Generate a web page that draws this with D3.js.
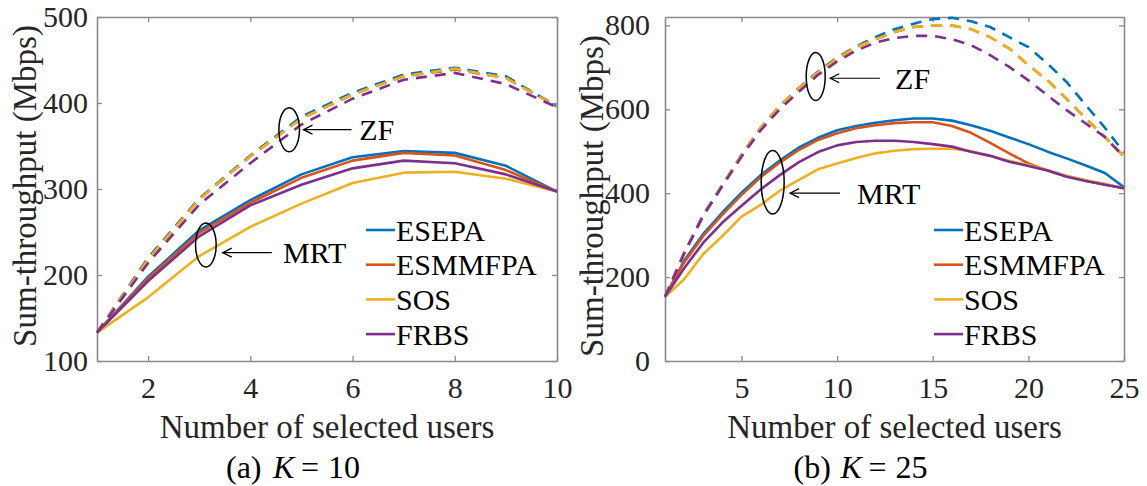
<!DOCTYPE html>
<html>
<head>
<meta charset="utf-8">
<script src="https://cdn.jsdelivr.net/npm/d3@7/dist/d3.min.js"></script>
<style>
  body { margin: 0; background: #fff; }
  text { font-family: "Liberation Serif", "Times New Roman", serif; fill: #262626; }
</style>
</head>
<body>
<svg width="1147" height="486"></svg>
<script>
// ---- data ----
var seriesNames = ["ESEPA", "ESMMFPA", "SOS", "FRBS"];
var seriesColors = ["#0072BD", "#D95319", "#EDB120", "#7E2F8E"];

var usersA = [1, 2, 3, 4, 5, 6, 7, 8, 9, 10];
var xTicksA = [2, 4, 6, 8, 10];
var yTicksA = [100, 200, 300, 400, 500];
var mrtEsepaA   = [133, 198, 252, 287, 317, 337, 344, 342, 327, 297];
var mrtEsmmfpaA = [133, 196, 249, 284, 313, 333, 342, 339, 322, 297];
var mrtSosA     = [133, 174, 222, 256, 283, 307, 319, 320, 312, 297];
var mrtFrbsA    = [133, 193, 245, 281, 305, 324, 333, 330, 317, 297];
var zfEsepaA    = [133, 220, 289, 339, 384, 412, 433, 441, 431, 396];
var zfEsmmfpaA  = [133, 218, 288, 338, 382, 410, 431, 439, 429, 396];
var zfSosA      = [133, 218, 288, 338, 382, 410, 431, 440, 429, 396];
var zfFrbsA     = [133, 214, 282, 330, 375, 405, 427, 435, 422, 395];

var usersB = [1, 2, 3, 4, 5, 6, 7, 8, 9, 10, 11, 12, 13, 14, 15, 16, 17, 18, 19, 20, 21, 22, 23, 24, 25];
var xTicksB = [5, 10, 15, 20, 25];
var yTicksB = [0, 200, 400, 600, 800];
var mrtEsepaB   = [153, 239, 303, 354, 401, 443, 478, 509, 532, 550, 560, 568, 574, 578, 578, 573, 562, 549, 533, 517, 499, 483, 466, 448, 414];
var mrtEsmmfpaB = [153, 235, 298, 349, 396, 438, 473, 503, 527, 543, 555, 562, 567, 569, 569, 560, 544, 520, 495, 471, 454, 441, 430, 421, 412];
var mrtSosB     = [153, 195, 255, 298, 344, 372, 406, 432, 457, 471, 484, 495, 501, 505, 506, 506, 500, 489, 477, 467, 455, 441, 431, 422, 412];
var mrtFrbsB    = [153, 221, 282, 330, 370, 409, 443, 474, 498, 514, 522, 525, 525, 522, 517, 511, 499, 489, 475, 465, 454, 439, 429, 420, 412];
var zfEsepaB    = [153, 258, 349, 420, 491, 556, 608, 651, 690, 723, 750, 772, 791, 804, 815, 818, 810, 796, 772, 748, 709, 665, 610, 556, 497];
var zfEsmmfpaB  = [153, 257, 348, 419, 490, 555, 607, 650, 688, 721, 748, 767, 784, 796, 800, 800, 791, 772, 745, 705, 669, 625, 578, 534, 488];
var zfSosB      = [153, 257, 348, 419, 490, 555, 607, 650, 688, 721, 748, 767, 784, 796, 800, 800, 791, 772, 745, 705, 669, 625, 578, 534, 488];
var zfFrbsB     = [153, 256, 346, 417, 487, 550, 600, 642, 682, 714, 740, 759, 770, 775, 775, 767, 753, 729, 701, 669, 633, 598, 566, 534, 486];

var svg = d3.select("svg");

var panels = [
  {
    left: 97, top: 17, width: 460, height: 344,
    xDomain: [1, 10], yDomain: [100, 500],
    users: usersA, xTicks: xTicksA, yTicks: yTicksA, yPad: 9,
    mrt: [mrtEsepaA, mrtEsmmfpaA, mrtSosA, mrtFrbsA],
    zf: [zfEsepaA, zfEsmmfpaA, zfSosA, zfFrbsA],
    yLabelX: 36, yLabelY: 186,
    caption: ["(a)", "K", "=", "10"],
    // annotations in data units
    zfNote: { cx: 4.76, cy: 369, rx: 10.3, ry: 22, x1: 5.98, x2: 5.04, y: 369, tx: 6.13 },
    mrtNote: { cx: 3.13, cy: 235, rx: 10.3, ry: 22, x1: 4.42, x2: 3.46, y: 226, tx: 4.64 }
  },
  {
    left: 665, top: 17, width: 459, height: 344,
    xDomain: [1, 25], yDomain: [0, 820],
    users: usersB, xTicks: xTicksB, yTicks: yTicksB, yPad: 15,
    mrt: [mrtEsepaB, mrtEsmmfpaB, mrtSosB, mrtFrbsB],
    zf: [zfEsepaB, zfEsmmfpaB, zfSosB, zfFrbsB],
    yLabelX: 603, yLabelY: 196,
    caption: ["(b)", "K", "=", "25"],
    zfNote: { cx: 8.88, cy: 678, rx: 9.5, ry: 24, x1: 12.24, x2: 9.64, y: 674, tx: 13.03 },
    mrtNote: { cx: 6.63, cy: 426, rx: 11.5, ry: 31.7, x1: 10.15, x2: 7.54, y: 400, tx: 11.04 }
  }
];

svg.append("defs").append("marker")
  .attr("id", "head")
  .attr("markerUnits", "userSpaceOnUse")
  .attr("markerWidth", 20).attr("markerHeight", 20)
  .attr("viewBox", "-10 -10 20 20")
  .attr("orient", "auto")
  .append("path")
  .attr("d", "M-9,-4.5L0,0L-9,4.5")
  .attr("fill", "none")
  .attr("stroke", "#000")
  .attr("stroke-width", 1.3);

panels.forEach(function (p) {
  var g = svg.append("g").attr("transform", "translate(" + p.left + "," + p.top + ")");

  var x = d3.scaleLinear().domain(p.xDomain).range([0, p.width]);
  var y = d3.scaleLinear().domain(p.yDomain).range([p.height, 0]);

  var line = d3.line()
    .x(function (d) { return x(d[0]); })
    .y(function (d) { return y(d[1]); });

  // axes, box with inner ticks on all sides
  var axes = [
    { ax: d3.axisBottom(x).tickValues(p.xTicks).tickPadding(16), t: "translate(0," + p.height + ")" },
    { ax: d3.axisTop(x).tickValues(p.xTicks).tickFormat(""), t: "translate(0,0)" },
    { ax: d3.axisLeft(y).tickValues(p.yTicks).tickPadding(p.yPad), t: "translate(0,0)" },
    { ax: d3.axisRight(y).tickValues(p.yTicks).tickFormat(""), t: "translate(" + p.width + ",0)" }
  ];
  axes.forEach(function (a) {
    var sel = g.append("g")
      .attr("transform", a.t)
      .call(a.ax.tickSizeInner(-5).tickSizeOuter(0));
    sel.select(".domain").attr("stroke", "#8a8a8a").attr("stroke-width", 1.6);
    sel.selectAll(".tick line").attr("stroke", "#8a8a8a").attr("stroke-width", 1.3);
    sel.selectAll(".tick text")
      .attr("font-size", 30)
      .attr("fill", "#262626");
  });

  // MRT solid, then ZF dashed
  p.mrt.forEach(function (vals, i) {
    g.append("path")
      .datum(p.users.map(function (u, k) { return [u, vals[k]]; }))
      .attr("fill", "none")
      .attr("stroke", seriesColors[i])
      .attr("stroke-width", 2.6)
      .attr("stroke-linejoin", "round")
      .attr("d", line);
  });
  p.zf.forEach(function (vals, i) {
    g.append("path")
      .datum(p.users.map(function (u, k) { return [u, vals[k]]; }))
      .attr("fill", "none")
      .attr("stroke", seriesColors[i])
      .attr("stroke-width", 2.6)
      .attr("stroke-dasharray", "11,8")
      .attr("d", line);
  });

  // annotations
  [[p.zfNote, "ZF"], [p.mrtNote, "MRT"]].forEach(function (n) {
    var a = n[0];
    g.append("ellipse")
      .attr("cx", x(a.cx)).attr("cy", y(a.cy))
      .attr("rx", a.rx).attr("ry", a.ry)
      .attr("fill", "none").attr("stroke", "#000").attr("stroke-width", 1.5);
    g.append("line")
      .attr("x1", x(a.x1)).attr("x2", x(a.x2))
      .attr("y1", y(a.y)).attr("y2", y(a.y))
      .attr("stroke", "#000").attr("stroke-width", 1.2)
      .attr("marker-end", "url(#head)");
    g.append("text")
      .attr("x", x(a.tx)).attr("y", y(a.y))
      .attr("dy", "0.36em")
      .attr("font-size", 30)
      .style("fill", "#000")
      .text(n[1]);
  });

  // legend
  var leg = g.append("g").attr("transform", "translate(269,213)");
  seriesNames.forEach(function (name, i) {
    var row = leg.append("g").attr("transform", "translate(0," + (i * 34.7) + ")");
    row.append("line")
      .attr("x1", 0).attr("x2", 29)
      .attr("stroke", seriesColors[i]).attr("stroke-width", 2.6);
    row.append("text")
      .attr("x", 30).attr("dy", "0.35em")
      .attr("font-size", 30)
      .style("fill", "#000")
      .text(name);
  });

  // axis labels
  svg.append("text")
    .attr("transform", "translate(" + p.yLabelX + "," + p.yLabelY + ") rotate(-90)")
    .attr("text-anchor", "middle")
    .attr("font-size", 33)
    .text("Sum-throughput (Mbps)");

  var cx = p.left + p.width / 2;
  svg.append("text")
    .attr("x", cx)
    .attr("y", 438)
    .attr("text-anchor", "middle")
    .attr("font-size", 33)
    .text("Number of selected users");

  // caption, laid out like the LaTeX subcaption
  var capOffsets = [-101, -54, -26, 1];
  p.caption.forEach(function (part, i) {
    svg.append("text")
      .attr("x", cx + capOffsets[i])
      .attr("y", 478)
      .attr("font-size", 32)
      .attr("font-style", i === 1 ? "italic" : "normal")
      .style("fill", "#000")
      .text(part);
  });
});
</script>
</body>
</html>
